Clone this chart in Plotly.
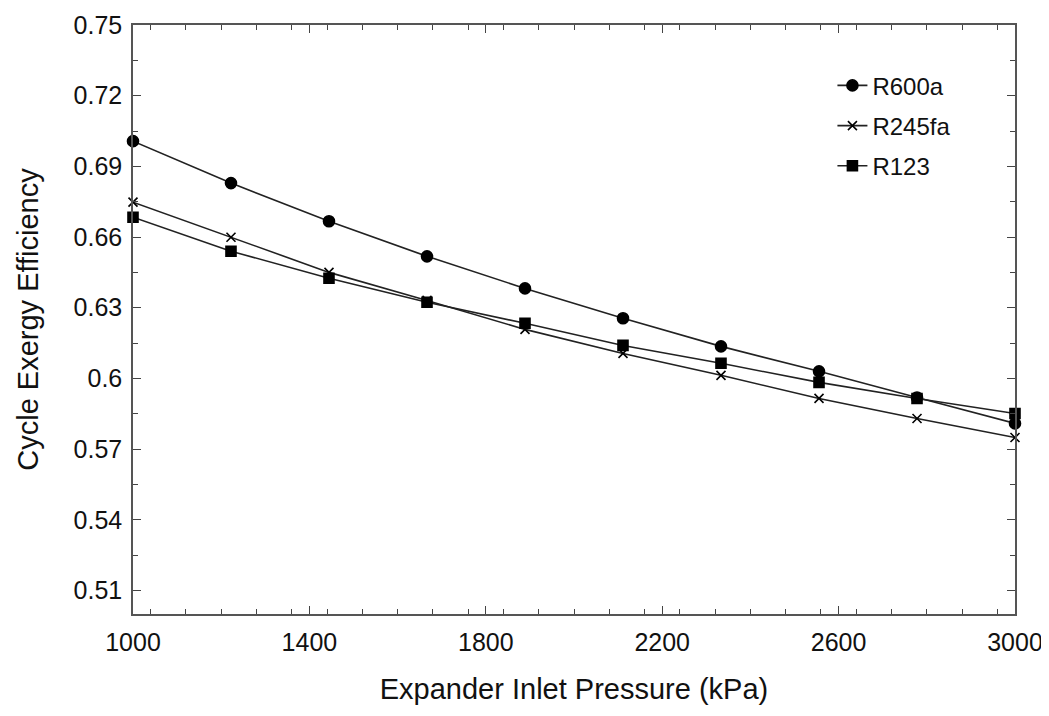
import plotly.graph_objects as go

pressure = [1000, 1222.2, 1444.4, 1666.7, 1888.9, 2111.1, 2333.3, 2555.6, 2777.8, 3000]
r600a = [0.7007, 0.6829, 0.6667, 0.6518, 0.6382, 0.6255, 0.6136, 0.6030, 0.5919, 0.5809]
r245fa = [0.6748, 0.6599, 0.6450, 0.6331, 0.6208, 0.6106, 0.6013, 0.5915, 0.5830, 0.5749]
r123 = [0.6684, 0.6540, 0.6425, 0.6323, 0.6234, 0.6140, 0.6064, 0.5983, 0.5915, 0.5851]

series = [
    ("R600a", r600a, "circle", 11),
    ("R245fa", r245fa, "x-thin-open", 9),
    ("R123", r123, "square", 10),
]

fig = go.Figure()
for name, vals, sym, size in series:
    fig.add_trace(go.Scatter(
        x=pressure, y=vals, name=name, mode="lines+markers", legendgroup=name,
        line=dict(color="#222222", width=1.6),
        marker=dict(symbol=sym, size=size, color="#000000",
                    line=dict(color="#000000", width=1.6)),
        cliponaxis=False,
    ))

font_family = "Liberation Sans, Arial, sans-serif"
fig.update_layout(
    width=1049, height=716,
    margin=dict(l=125, r=42, t=17, b=110),
    paper_bgcolor="white", plot_bgcolor="white",
    font=dict(family=font_family, size=25, color="#111111"),
    showlegend=True,
    legend=dict(x=0.793, y=0.935, xanchor="left", yanchor="top",
                bgcolor="rgba(0,0,0,0)", font=dict(size=24, color="#111111"),
                tracegroupgap=6),
    xaxis=dict(
        range=[1000, 3000], tick0=1000, dtick=400,
        ticks="inside", ticklen=8, tickwidth=1.2, tickcolor="#444444",
        minor=dict(dtick=80, ticks="inside", ticklen=5, tickcolor="#444444"),
        showline=True, linecolor="#555555", linewidth=1.5, mirror="ticks",
        showgrid=False, zeroline=False, automargin="bottom",
        ticklabelstandoff=5,
        title=dict(text="Expander Inlet Pressure (kPa)", standoff=24, font=dict(size=29)),
        tickfont=dict(size=25),
    ),
    yaxis=dict(
        range=[0.5, 0.75], tick0=0.51, dtick=0.03,
        ticks="inside", ticklen=8, tickwidth=1.2, tickcolor="#444444",
        minor=dict(dtick=0.015, tick0=0.51, ticks="inside", ticklen=5, tickcolor="#444444"),
        showline=True, linecolor="#555555", linewidth=1.5, mirror="ticks",
        showgrid=False, zeroline=False, automargin="left",
        ticklabelstandoff=4,
        title=dict(text="Cycle Exergy Efficiency", standoff=26, font=dict(size=29)),
        tickfont=dict(size=25),
    ),
)

fig.write_html("out.html")
